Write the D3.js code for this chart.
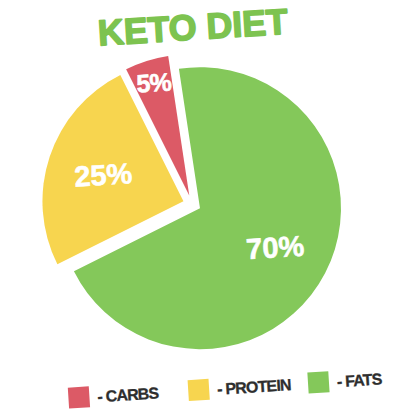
<!DOCTYPE html>
<html>
<head>
<meta charset="utf-8">
<script src="https://cdn.jsdelivr.net/npm/d3@7"></script>
<style>
    body { margin: 0; background: #fff; }
</style>
</head>
<body>
<div id="container"></div>
<script>
var width = 415,
    height = 415;

// data
var title = "KETO DIET";
var categories = ["CARBS", "PROTEIN", "FATS"];
var values = [5, 25, 70];
var colors = ["#dc5a66", "#f7d54f", "#84c85a"];

var cx = 192, cy = 204;
var radius = 141;
var explode = 9;
var tilt = -3.6;              // the photo is slightly turned
var start = -5 * Math.PI / 180;

var svg = d3.select("#container").append("svg")
    .attr("width", width)
    .attr("height", height);

var root = svg.append("g")
    .attr("transform", "rotate(" + tilt + "," + cx + "," + cy + ")");

var color = d3.scaleOrdinal()
    .domain(categories)
    .range(colors);

// laid out counter clockwise so fats start at the top and run clockwise
var pie = d3.pie()
    .sort(null)
    .value(d => d.value)
    .startAngle(start + 2 * Math.PI)
    .endAngle(start);

var slices = pie(categories.map((c, i) => ({ name: c, value: values[i] })));

var arc = d3.arc()
    .innerRadius(0)
    .outerRadius(radius);

var pieG = root.append("g")
    .attr("transform", "translate(" + cx + "," + cy + ")");

var sliceG = pieG.selectAll(".slice")
    .data(slices)
    .enter().append("g")
    .attr("class", "slice")
    .attr("transform", d => {
        let mid = (d.startAngle + d.endAngle) / 2;
        return "translate(" + (Math.sin(mid) * explode) + "," + (-Math.cos(mid) * explode) + ")";
    });

sliceG.append("path")
    .attr("d", arc)
    .attr("fill", d => color(d.data.name));

// small slices get their label further out where there is room
function labelK(d) {
    return d.data.value < 10 ? 0.84 : 0.6;
}

sliceG.append("text")
    .attr("x", d => {
        let mid = (d.startAngle + d.endAngle) / 2;
        return Math.sin(mid) * radius * labelK(d);
    })
    .attr("y", d => {
        let mid = (d.startAngle + d.endAngle) / 2;
        return -Math.cos(mid) * radius * labelK(d);
    })
    .attr("dy", "0.36em")
    .attr("text-anchor", "middle")
    .attr("font-family", "'Liberation Sans', Arial, sans-serif")
    .attr("font-weight", "bold")
    .attr("font-size", d => d.data.value < 10 ? 25 : 29)
    .attr("letter-spacing", d => d.data.value < 10 ? -1 : 0)
    .attr("fill", "#fff")
    .attr("stroke", "#fff")
    .attr("stroke-width", 0.6)
    .text(d => d.data.value + "%");

// title
root.append("text")
    .attr("x", 204)
    .attr("y", 40)
    .attr("text-anchor", "middle")
    .attr("font-family", "'Liberation Sans', Arial, sans-serif")
    .attr("font-weight", "bold")
    .attr("font-size", 36)
    .attr("textLength", 190)
    .attr("lengthAdjust", "spacingAndGlyphs")
    .attr("fill", "#7dc350")
    .attr("stroke", "#7dc350")
    .attr("stroke-width", 1.6)
    .attr("stroke-linejoin", "round")
    .text(title);

// legend
var lx = d3.scalePoint()
    .domain(categories)
    .range([67, 307]);
var ly = 390, box = 21;

var legend = root.selectAll(".legend")
    .data(categories)
    .enter().append("g")
    .attr("class", "legend")
    .attr("transform", d => "translate(" + lx(d) + "," + ly + ")");

legend.append("rect")
    .attr("x", -box / 2)
    .attr("y", -box / 2)
    .attr("width", box)
    .attr("height", box)
    .attr("fill", d => color(d));

legend.append("text")
    .attr("x", box / 2 + 8)
    .attr("y", 6)
    .attr("font-family", "'Liberation Sans', Arial, sans-serif")
    .attr("font-weight", "bold")
    .attr("font-size", 16)
    .attr("letter-spacing", -0.8)
    .attr("fill", "#2e2e2e")
    .attr("stroke", "#2e2e2e")
    .attr("stroke-width", 0.3)
    .text(d => "- " + d);
</script>
</body>
</html>
